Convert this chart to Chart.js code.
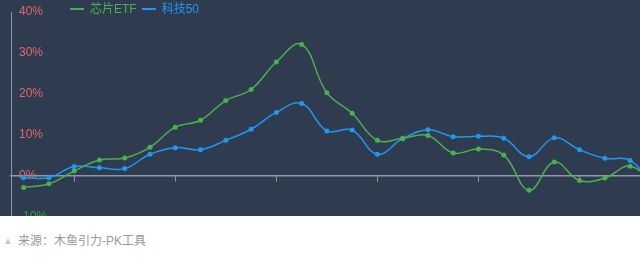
<!DOCTYPE html>
<html>
<head>
<meta charset="utf-8">
<script src="https://cdn.jsdelivr.net/npm/chart.js@4"></script>
<style>
  html, body { margin: 0; padding: 0; background: #fff; width: 640px; height: 262px; overflow: hidden; }
  #zona { position: relative; width: 640px; height: 216px; background: #2f3c4f; overflow: hidden; }
  #grafico { position: absolute; left: 0; top: 0; }
  #leyenda { position: absolute; left: 70px; top: 1px; font: 12px "Liberation Sans", "Noto Sans CJK SC", sans-serif; white-space: nowrap; }
  #leyenda span { display: inline-block; margin-right: 5px; line-height: 16px; }
  #leyenda i { display: inline-block; width: 14px; height: 2px; vertical-align: middle; margin-right: 6px; margin-top: -2px; }
  #fuente { position: absolute; left: 3px; top: 231px; font: 12px "Liberation Sans", "Noto Sans CJK SC", sans-serif; color: #999; }
  #fuente b { color: #ccc; font-size: 10px; font-weight: normal; margin-right: 5px; vertical-align: 1px; }
</style>
</head>
<body>
<div id="zona">
  <canvas id="grafico" width="672" height="234"></canvas>
  <div id="leyenda"></div>
</div>
<div id="fuente"><b>▲</b>来源：木鱼引力-PK工具</div>

<script>
// DATOS (valores en %)
const dias = ['1', '2', '3', '4', '5', '6', '7', '8', '9', '10', '11', '12', '13',
  '14', '15', '16', '17', '18', '19', '20', '21', '22', '23', '24', '25', '26'];
const chipEtf = [-2.8, -1.9, 1.2, 3.9, 4.4, 7.0, 11.9, 13.6, 18.4, 21.1, 27.8, 32.1, 20.3,
  15.3, 8.7, 9.2, 9.9, 5.6, 6.6, 5.1, -3.5, 3.4, -1.1, -0.5, 2.4, -2.5];
const keji50 = [-0.4, -0.4, 2.3, 2.0, 1.8, 5.3, 6.9, 6.4, 8.7, 11.4, 15.5, 17.7, 11.0,
  11.2, 5.3, 9.1, 11.3, 9.6, 9.7, 9.2, 4.7, 9.3, 6.4, 4.3, 3.8, -3.0];
const ticksY = [-10, 0, 10, 20, 30, 40];

const series = [
  { nombre: '芯片ETF', datos: chipEtf, color: '#4caf50' },
  { nombre: '科技50', datos: keji50, color: '#2196f3' }
];

// LEYENDA
const leyenda = document.getElementById('leyenda');
series.forEach(s => {
  const item = document.createElement('span');
  item.style.color = s.color;
  item.innerHTML = `<i style="background:${s.color}"></i>${s.nombre}`;
  leyenda.appendChild(item);
});

const ejeColor = '#8d99aa';

// CREAR GRÁFICO
new Chart(document.getElementById('grafico'), {
  type: 'line',
  data: {
    labels: dias,
    datasets: series.map(s => ({
      label: s.nombre,
      data: s.datos,
      borderColor: s.color,
      backgroundColor: s.color,
      borderWidth: 1.5,
      pointRadius: 2.5,
      pointBorderWidth: 0,
      tension: 0.4,
      clip: false
    }))
  },
  options: {
    responsive: false,
    animation: false,
    layout: { padding: { top: 12, right: 0, bottom: 17, left: 0 } },
    plugins: { legend: { display: false }, tooltip: { enabled: false } },
    scales: {
      x: {
        offset: true,
        position: { y: 0 },
        ticks: { display: false },
        grid: {
          offset: false,
          drawOnChartArea: false,
          drawTicks: true,
          tickLength: 5,
          tickWidth: 1,
          tickColor: ctx => (ctx.index % 4 === 2 ? ejeColor : 'rgba(0,0,0,0)')
        },
        border: { color: ejeColor, width: 1.5 },
        afterFit: scale => { scale.height = 0; }
      },
      y: {
        min: -10,
        max: 40,
        afterBuildTicks: scale => { scale.ticks = ticksY.map(v => ({ value: v })); },
        ticks: {
          mirror: true,
          padding: 8,
          font: { family: '"Liberation Sans", "Noto Sans CJK SC", sans-serif', size: 12 },
          color: ctx => (ctx.tick.value < 0 ? '#3aa13a' : '#e06a6a'),
          callback: v => v + '%'
        },
        grid: { drawOnChartArea: false, drawTicks: false },
        border: { color: ejeColor, width: 1 },
        afterFit: scale => {
          scale.width = 11;
          scale.paddingTop = 0;
          scale.paddingBottom = 0;
        }
      }
    }
  }
});
</script>
</body>
</html>
